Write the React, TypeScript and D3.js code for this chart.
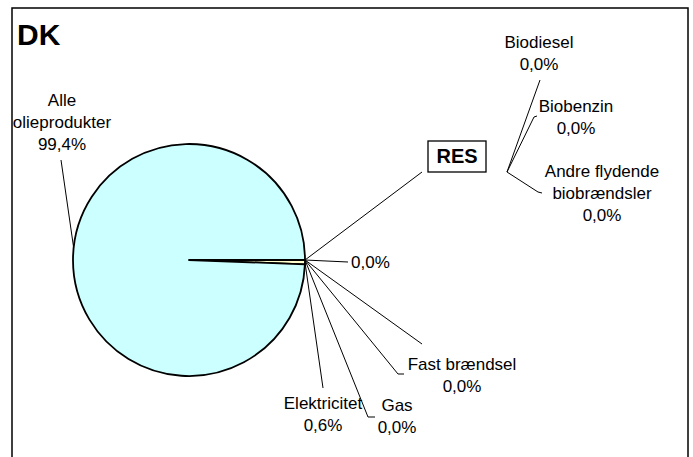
import * as d3 from 'd3'

// main pie, clockwise from 3 o'clock
const categories = ['RES', '', '', 'Fast brændsel', 'Gas', 'Elektricitet', 'Alle olieprodukter']
const values = [0, 0, 0, 0, 0, 0.6, 99.4]
const showName = [false, false, false, true, true, true, true]
const showPct = [false, true, false, true, true, true, true]

// break-down of RES
const resCategories = ['Biodiesel', 'Biobenzin', 'Andre flydende biobrændsler']
const resValues = [0, 0, 0]

const W = 693
const H = 457
const cx = 189
const cy = 260
const R = 116
const FONT = 'Liberation Sans, Arial, Helvetica, sans-serif'
const LH = 22

const pct = (v: number, tot: number) =>
  d3.format('.1f')(tot ? (v / tot) * 100 : 0).replace('.', ',') + '%'

// where the labels sit and how their leaders bend
const layout: { x: number; y: number; anchor: string; leader: number[][]; lines?: string[]; off?: number }[] = [
  { x: 457, y: 163, anchor: 'middle', leader: [[422, 172]] },
  { x: 351, y: 268, anchor: 'start', leader: [[348, 262]] },
  { x: 0, y: 0, anchor: 'middle', leader: [[422, 344]] },
  { x: 462, y: 370, anchor: 'middle', leader: [[404, 374], [398, 374]] },
  { x: 397, y: 411, anchor: 'middle', leader: [[375, 417], [368, 417]] },
  { x: 323, y: 409, anchor: 'middle', leader: [[323, 388]] },
  { x: 62, y: 106, anchor: 'middle', leader: [[61, 160]], lines: ['Alle', 'olieprodukter'], off: 5 },
]

const resHub = [507, 172]
const resLayout: { x: number; y: number; leader: number[][]; lines: string[] }[] = [
  { x: 539, y: 48, leader: [[540, 80]], lines: ['Biodiesel'] },
  { x: 576, y: 112, leader: [[537, 116], [534, 117]], lines: ['Biobenzin'] },
  { x: 602, y: 177, leader: [[542, 193], [538, 192]], lines: ['Andre flydende', 'biobrændsler'] },
]

const fills = ['#ffffff', '#ffffff', '#ffffff', '#ffffff', '#ffffff', '#ffffcc', '#ccffff']

export default function App() {
  const total = d3.sum(values)
  const resTotal = d3.sum(resValues)

  const pie = d3
    .pie<number>()
    .sort(null)
    .startAngle(Math.PI / 2)
    .endAngle(Math.PI / 2 + 2 * Math.PI)(values)

  const arc = d3.arc<d3.PieArcDatum<number>>().innerRadius(0).outerRadius(R)
  const edge = (a: number) => [cx + R * Math.sin(a), cy - R * Math.cos(a)]
  const line = d3.line()

  return (
    <svg width={W} height={H} style={{ position: 'absolute', left: 0, top: 0, background: '#fff' }}>
      <rect x={12} y={8} width={676} height={470} fill='#fff' stroke='#000' strokeWidth={1.5} />
      <text x={17} y={45} fontFamily={FONT} fontWeight='bold' fontSize={30}>DK</text>

      {/* slices */}
      <g transform={`translate(${cx},${cy})`}>
        {pie.map((d, i) => (
          <path key={i} d={arc(d) || ''} fill={fills[i]} stroke='#000' strokeWidth={1.8} strokeLinejoin='round' />
        ))}
      </g>

      {/* leaders + labels */}
      {pie.map((d, i) => {
        const L = layout[i]
        const a = (d.startAngle + d.endAngle) / 2 + ((L.off || 0) * Math.PI) / 180
        const pts = [...L.leader].reverse()
        pts.unshift(edge(a))
        const lines = L.lines ? [...L.lines] : showName[i] ? [categories[i]] : []
        if (showPct[i]) lines.push(pct(values[i], total))
        return (
          <g key={i}>
            <path d={line(pts as [number, number][]) || ''} fill='none' stroke='#000' strokeWidth={1} />
            {i === 0 ? (
              <g>
                <rect x={428} y={141} width={58} height={31} fill='#fff' stroke='#000' strokeWidth={1.3} />
                <text x={L.x} y={L.y} textAnchor='middle' fontFamily={FONT} fontWeight='bold' fontSize={20}>
                  {categories[0]}
                </text>
              </g>
            ) : (
              lines.map((t, j) => (
                <text key={j} x={L.x} y={L.y + j * LH} textAnchor={L.anchor} fontFamily={FONT} fontSize={17}>
                  {t}
                </text>
              ))
            )}
          </g>
        )
      })}

      {/* RES sub labels */}
      {resCategories.map((c, i) => {
        const L = resLayout[i]
        const pts = [resHub, ...[...L.leader].reverse()]
        const lines = [...L.lines, pct(resValues[i], resTotal)]
        return (
          <g key={c}>
            <path d={line(pts as [number, number][]) || ''} fill='none' stroke='#000' strokeWidth={1} />
            {lines.map((t, j) => (
              <text key={j} x={L.x} y={L.y + j * LH} textAnchor='middle' fontFamily={FONT} fontSize={17}>
                {t}
              </text>
            ))}
          </g>
        )
      })}
    </svg>
  )
}
